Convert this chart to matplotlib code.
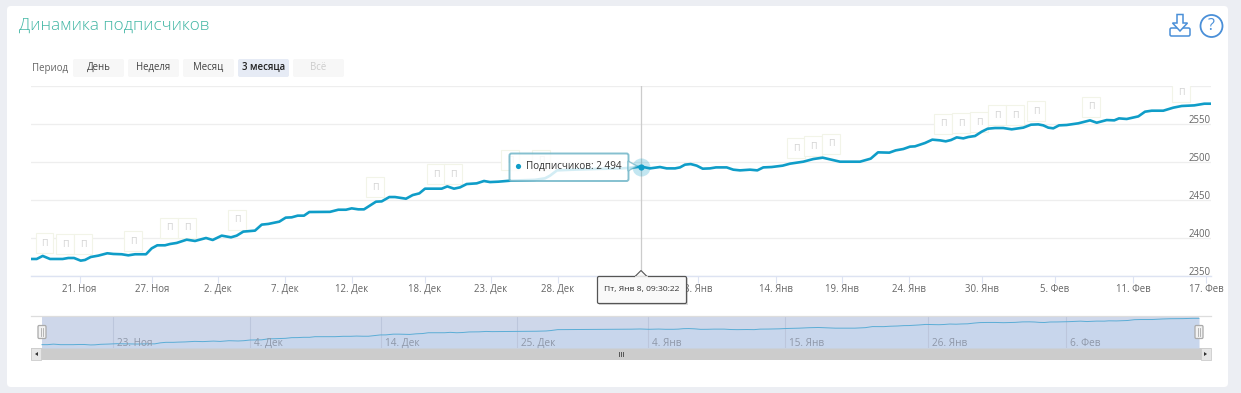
import matplotlib
matplotlib.use("Agg")
import matplotlib.pyplot as plt
from matplotlib.patches import FancyBboxPatch, Rectangle, Polygon, Circle

plt.rcParams['font.family'] = ['Open Sans', 'DejaVu Sans']

# ordinal position along the main axis (0..1180) and subscribers
ord_pos = [0, 5.7, 11.7, 19, 31.7, 37.3, 43, 49.7, 54, 59.7, 67.3, 76.3, 82.3, 90.7, 97.3, 104, 115, 120.7, 126.3, 134,
           139, 145.7, 155.7, 164, 175, 181.7, 190.7, 200, 205.7, 212.3, 224, 230.7, 237.3, 248.3, 254.7, 260.7, 266.7,
           273, 278.3, 299, 307.3, 315, 320.7, 327.3, 333, 345, 350.7, 358.3, 364, 375, 381.7, 388.3, 394, 410.7, 416.3,
           423, 429, 435.7, 445.7, 453, 459, 467.3, 479, 504, 514, 519, 526, 544, 569, 589, 601, 610, 619, 629, 635.7,
           644, 649, 654, 659.7, 665.7, 671.7, 679, 685, 695.7, 702.3, 709, 719, 726.3, 732.3, 740.7, 751.7, 759, 772.3,
           782.3, 791.7, 799, 809, 829, 839.7, 847, 858.3, 864.7, 872.3, 879, 884, 894, 901.3, 909, 914.7, 920, 925.7,
           932.3, 937.3, 944, 950.7, 956.7, 964, 972.3, 980.7, 992.3, 1000, 1007.3, 1012.3, 1017.3, 1022.3, 1028, 1035.7,
           1047.3, 1059, 1065.7, 1075.7, 1083.3, 1088, 1095.7, 1107.3, 1114, 1120.7, 1132.3, 1142.3, 1150.7, 1163.3,
           1173.3, 1180]
subscribers = [2372.4, 2372.4, 2376.4, 2372.4, 2372.4, 2373.7, 2373.7, 2370.2, 2371.1, 2375, 2376.8, 2379.9, 2379, 2378.6,
               2377.2, 2378.6, 2378.6, 2386.4, 2390.4, 2390.4, 2392.1, 2393.5, 2397.8, 2396.1, 2400, 2397.4, 2403.1, 2400.9,
               2403.1, 2408.4, 2409.7, 2417.6, 2418.5, 2421.5, 2426.8, 2427.2, 2429.4, 2429.4, 2434.2, 2434.4, 2437.2, 2437.2,
               2439, 2437.7, 2437.7, 2447.8, 2448.2, 2453.9, 2453.9, 2451.7, 2456.5, 2458.7, 2464.9, 2464.9, 2467.9, 2464.9,
               2466.6, 2471, 2471.9, 2475, 2473.6, 2474.1, 2475.4, 2476.5, 2478.5, 2482, 2489, 2490, 2491, 2491.5, 2492.5,
               2494, 2491.6, 2493.4, 2491.6, 2491.6, 2492.9, 2496.5, 2497.3, 2495.2, 2491.2, 2491.6, 2492.9, 2492.9, 2489.9,
               2489, 2489.9, 2489, 2492.9, 2493.4, 2495.2, 2497.8, 2500.4, 2503.9, 2505.7, 2503.5, 2500.4, 2500.4, 2504.4,
               2512.7, 2512.3, 2515.3, 2517.1, 2520.2, 2520.6, 2525, 2529.4, 2528.5, 2527.2, 2528.9, 2532.4, 2531.1, 2532.9,
               2534.2, 2539.9, 2543.8, 2544.7, 2544.7, 2543, 2545.2, 2549.1, 2549.5, 2548.2, 2545.2, 2544.3, 2548.2, 2548.7,
               2550.9, 2554.8, 2551.7, 2555.2, 2554.8, 2557.4, 2556.6, 2560, 2566.2, 2567.5, 2567.5, 2571.5, 2573.7, 2574.5,
               2576.7, 2576.7]

x_ticks = [48.5, 121, 187, 254, 321, 394, 460, 527, 600, 667, 745, 811, 878, 951, 1024, 1102, 1175]
x_labels = ['21. Ноя', '27. Ноя', '2. Дек', '7. Дек', '12. Дек', '18. Дек', '23. Дек', '28. Дек', '3. Янв', '8. Янв',
            '14. Янв', '19. Янв', '24. Янв', '30. Янв', '5. Фев', '11. Фев', '17. Фев']
y_ticks = [2350, 2400, 2450, 2500, 2550, 2600]
y_labels = ['2350', '2400', '2450', '2500', '2550']

flag_ord = [13.5, 34, 52, 102, 138, 156, 206, 344, 405, 422, 479, 510, 765, 782, 800, 912, 930, 948, 966, 984, 1005, 1060, 1150]
flag_val = [2393.4, 2392.1, 2392.1, 2396, 2413.2, 2413.2, 2423.7, 2467.1, 2484.2, 2484.2, 2502.6, 2502.6, 2518.4, 2521,
            2523.7, 2550, 2551.3, 2552.6, 2561.8, 2561.8, 2567.1, 2572.4, 2592.1]

nav_ticks = [72.4, 212.1, 345.7, 484.4, 618, 757.8, 903.6, 1044.3]
nav_labels = ['23. Ноя', '4. Дек', '14. Дек', '25. Дек', '4. Янв', '15. Янв', '26. Янв', '6. Фев']

periods = ['День', 'Неделя', 'Месяц', '3 месяца', 'Всё']

W, H = 1241, 393
fig = plt.figure(figsize=(W / 100, H / 100), dpi=100, facecolor='#eceef3')


def px_axes(x0, y0, x1, y1, z):
    a = fig.add_axes([x0 / W, 1 - y1 / H, (x1 - x0) / W, (y1 - y0) / H], zorder=z)
    a.patch.set_alpha(0)
    return a


# chrome layer, pixel coordinates
bg = px_axes(0, 0, W, H, 0)
bg.set_xlim(0, W)
bg.set_ylim(H, 0)
bg.axis('off')
bg.add_patch(FancyBboxPatch((9, 8), 1217, 377, boxstyle='round,pad=2,rounding_size=4', fc='white', ec='none'))
bg.text(19, 26, 'Динамика подписчиков', color='#41b6a4', fontsize=12.3, va='center', fontweight='light')
bg.text(32, 68, 'Период', color='#666666', fontsize=6.9, va='center')
for i, name in enumerate(periods):
    x0 = 73 + i * 55
    fc, tc, fw = '#f7f7f7', '#444444', 'normal'
    if name == '3 месяца':
        fc, tc, fw = '#e6ebf5', '#222222', 'semibold'
    if name == 'Всё':
        tc = '#cccccc'
    bg.add_patch(FancyBboxPatch((x0 + 1, 60), 49, 16, boxstyle='round,pad=1,rounding_size=2', fc=fc, ec='none'))
    bg.text(x0 + 25.5, 67.5, name, color=tc, fontsize=6.9, ha='center', va='center', fontweight=fw)

# scrollbar
bg.add_patch(Rectangle((31, 348), 1180, 12, fc='#cccccc', ec='none'))
bg.add_patch(Rectangle((31, 348), 10, 12, fc='#e6e6e6', ec='#cccccc', lw=0.6))
bg.add_patch(Rectangle((1201, 348), 10, 12, fc='#e6e6e6', ec='#cccccc', lw=0.6))
bg.add_patch(Polygon([[38, 352], [38, 356], [35, 354]], fc='#333333', ec='none'))
bg.add_patch(Polygon([[1204, 352], [1204, 356], [1207, 354]], fc='#333333', ec='none'))
for gx in (618.5, 620.5, 622.5):
    bg.plot([gx, gx], [352, 356], color='#555555', lw=0.7)

# main chart
ax = px_axes(31, 86, 1211, 276, 1)
ax.set_xlim(0, 1180)
ax.set_ylim(2350, 2600)
for s in ax.spines.values():
    s.set_visible(False)
ax.set_yticks(y_ticks)
ax.set_yticklabels([])
ax.yaxis.set_ticks_position('none')
ax.yaxis.grid(True, color='#eeeeee', lw=0.9)
ax.set_axisbelow(True)
ax.spines['bottom'].set_visible(True)
ax.spines['bottom'].set_color('#dde3f2')
ax.spines['bottom'].set_linewidth(1.0)
ax.set_xticks(x_ticks)
ax.set_xticklabels(x_labels, color='#666666', fontsize=6.9)
ax.tick_params(axis='x', length=5, width=0.8, color='#dde3f2', pad=1)
for v, lab in zip(y_ticks, y_labels):
    ax.annotate(lab, xy=(1, v), xycoords=('axes fraction', 'data'), xytext=(0, -1.2), textcoords='offset points',
                ha='right', va='bottom', fontsize=6.9, color='#666666', annotation_clip=False, zorder=2)
for fx, fv in zip(flag_ord, flag_val):
    ax.text(fx, fv, 'П', fontsize=6.5, color='#d2d2d2', ha='center', va='center', clip_on=True, zorder=2,
            bbox=dict(boxstyle='square,pad=0.62', fc='white', ec='#f2f4e8', lw=0.8))
ax.plot(ord_pos, subscribers, color='#0f9dc8', lw=1.9, solid_joinstyle='round', zorder=3)
ax.axvline(610, color='#cccccc', lw=0.9, zorder=4)
ax.plot([610], [2494], 'o', ms=13, color='#0f9dc8', alpha=0.25, mew=0, zorder=4)
ax.plot([610], [2494], 'o', ms=4.5, color='#0f9dc8', mew=0, zorder=5)

# navigator
nav = px_axes(31, 316, 1211, 348, 1)
nav.set_xlim(-11.2, 1192.2)
nav.set_ylim(2346.4, 2594.8)
nav.axis('off')
nav.add_patch(Rectangle((0, 2346.4), 1180, 248.4, fc='#ced7ea', ec='none', zorder=0))
nav.fill_between(ord_pos, subscribers, 2346.4, color='#c8d6ec', lw=0, zorder=1)
nav.plot(ord_pos, subscribers, color='#5badd6', lw=0.7, zorder=2)
for t, lab in zip(nav_ticks, nav_labels):
    nav.axvline(t, color='#bcc6dc', lw=0.8, zorder=1)
    nav.annotate(lab, xy=(t, 0), xycoords=('data', 'axes fraction'), xytext=(3, -1), textcoords='offset points',
                 fontsize=7.2, color='#8e97a8', va='bottom', ha='left', zorder=3, annotation_clip=False)

# overlay: tooltip, handles, icons
fg = px_axes(0, 0, W, H, 2)
fg.set_xlim(0, W)
fg.set_ylim(H, 0)
fg.axis('off')
fg.plot([31, 1211], [316, 316], color='#dddddd', lw=0.9)
for hx in (42, 1199):
    fg.add_patch(FancyBboxPatch((hx - 3.5, 326), 7, 12, boxstyle='round,pad=0.5,rounding_size=1.2', fc='#f2f2f2',
                                ec='#aaaaaa', lw=0.9))
    fg.plot([hx - 1, hx - 1], [328, 336], color='#aaaaaa', lw=0.6)
    fg.plot([hx + 1, hx + 1], [328, 336], color='#aaaaaa', lw=0.6)

fg.add_patch(FancyBboxPatch((510, 154), 118, 26.5, boxstyle='round,pad=0.5,rounding_size=2', fc='white', ec='#6bb3c6',
                            lw=1.4, alpha=0.82))
fg.add_patch(Polygon([[628, 161], [637, 166], [628, 171]], fc='white', ec='#6bb3c6', lw=1.0, alpha=0.7))
fg.add_patch(Circle((518.5, 166.5), 2.6, fc='#0f9dc8', ec='none'))
fg.text(526, 166.5, 'Подписчиков: 2 494', fontsize=7.1, color='#333333', va='center')

fg.add_patch(Rectangle((598.5, 278), 89, 27, fc='#777777', ec='none', alpha=0.25))
fg.add_patch(FancyBboxPatch((597.5, 276.5), 89, 27, boxstyle='round,pad=0,rounding_size=1.5', fc='#f9f9f9', ec='#555555', lw=0.9))
fg.add_patch(Polygon([[635, 276.5], [641, 270.5], [647, 276.5]], fc='#f9f9f9', ec='#555555', lw=0.8))
fg.plot([635.5, 646.5], [276.7, 276.7], color='#f9f9f9', lw=1.2)
fg.text(641.5, 289, 'Пт, Янв 8, 09:30:22', fontsize=6.1, color='#333333', ha='center', va='center')

ic = '#4a8fd8'
fg.add_patch(FancyBboxPatch((1170, 28), 20, 8, boxstyle='round,pad=0,rounding_size=1.5', fc='white', ec=ic, lw=1.1))
fg.add_patch(Polygon([[1177, 14.5], [1183, 14.5], [1183, 23], [1187.5, 23], [1180, 31], [1172.5, 23], [1177, 23]],
                     fc='white', ec=ic, lw=1.1))
fg.add_patch(Circle((1211.5, 26), 11, fc='white', ec=ic, lw=1.3))
fg.text(1211.5, 26, '?', fontsize=11.5, color=ic, ha='center', va='center')

fig.savefig('out.png', dpi=100, facecolor=fig.get_facecolor())
